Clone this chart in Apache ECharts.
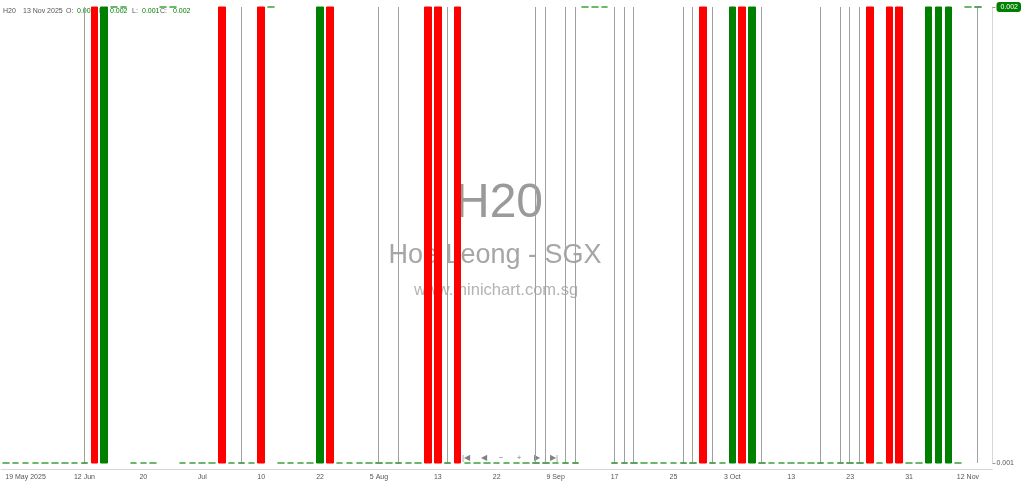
<!DOCTYPE html>
<html>
<head>
<meta charset="utf-8">
<title>H20 - Hoe Leong - SGX</title>
<script src="https://cdn.jsdelivr.net/npm/echarts@6.0.0/dist/echarts.min.js"></script>
<style>
html,body{margin:0;padding:0;background:#fff;}
#chart{width:1024px;height:484px;}
</style>
</head>
<body>
<div id="chart"></div>
<script>
// 交易日（只含有成交的日子）
var dates = [
    '2025-05-14','2025-05-16','2025-05-19','2025-05-22','2025-05-27','2025-05-30','2025-06-04','2025-06-09','2025-06-12','2025-06-13',
    '2025-06-16','2025-06-17','2025-06-18','2025-06-19','2025-06-20','2025-06-23','2025-06-24','2025-06-25','2025-06-26','2025-06-30',
    '2025-07-01','2025-07-02','2025-07-03','2025-07-04','2025-07-07','2025-07-09','2025-07-10','2025-07-11','2025-07-14','2025-07-16',
    '2025-07-17','2025-07-21','2025-07-22','2025-07-23','2025-07-25','2025-07-28','2025-07-30','2025-08-01','2025-08-05','2025-08-06',
    '2025-08-07','2025-08-08','2025-08-11','2025-08-12','2025-08-13','2025-08-14','2025-08-15','2025-08-18','2025-08-20','2025-08-21',
    '2025-08-22','2025-08-26','2025-08-28','2025-09-01','2025-09-03','2025-09-05','2025-09-09','2025-09-10','2025-09-11','2025-09-12',
    '2025-09-15','2025-09-16','2025-09-17','2025-09-18','2025-09-19','2025-09-22','2025-09-23','2025-09-24','2025-09-25','2025-09-26',
    '2025-09-29','2025-09-30','2025-10-01','2025-10-02','2025-10-03','2025-10-06','2025-10-07','2025-10-08','2025-10-09','2025-10-10',
    '2025-10-13','2025-10-14','2025-10-15','2025-10-16','2025-10-17','2025-10-22','2025-10-23','2025-10-24','2025-10-27','2025-10-28',
    '2025-10-29','2025-10-30','2025-10-31','2025-11-04','2025-11-05','2025-11-06','2025-11-07','2025-11-11','2025-11-12','2025-11-13'
];
var opens = [
    0.001,0.001,0.001,0.001,0.001,0.001,0.001,0.001,0.001,0.002,
    0.001,0.002,0.002,0.001,0.001,0.001,0.002,0.002,0.001,0.001,
    0.001,0.001,0.002,0.001,0.001,0.001,0.002,0.002,0.001,0.001,
    0.001,0.001,0.001,0.002,0.001,0.001,0.001,0.001,0.001,0.001,
    0.001,0.001,0.001,0.002,0.002,0.001,0.002,0.001,0.001,0.001,
    0.001,0.001,0.001,0.001,0.001,0.001,0.001,0.001,0.001,0.002,
    0.002,0.002,0.001,0.001,0.001,0.001,0.001,0.001,0.001,0.001,
    0.001,0.002,0.001,0.001,0.001,0.002,0.001,0.001,0.001,0.001,
    0.001,0.001,0.001,0.001,0.001,0.001,0.001,0.001,0.002,0.001,
    0.002,0.002,0.001,0.001,0.001,0.001,0.001,0.001,0.002,0.002
];
var highs = [
    0.001,0.001,0.001,0.001,0.001,0.001,0.001,0.001,0.002,0.002,
    0.002,0.002,0.002,0.001,0.001,0.001,0.002,0.002,0.001,0.001,
    0.001,0.001,0.002,0.001,0.002,0.001,0.002,0.002,0.001,0.001,
    0.001,0.001,0.002,0.002,0.001,0.001,0.001,0.001,0.002,0.001,
    0.002,0.001,0.001,0.002,0.002,0.002,0.002,0.001,0.001,0.001,
    0.001,0.001,0.001,0.001,0.002,0.002,0.001,0.002,0.002,0.002,
    0.002,0.002,0.002,0.002,0.002,0.001,0.001,0.001,0.001,0.002,
    0.002,0.002,0.002,0.001,0.002,0.002,0.002,0.002,0.001,0.001,
    0.001,0.001,0.001,0.002,0.001,0.002,0.002,0.002,0.002,0.001,
    0.002,0.002,0.001,0.001,0.002,0.002,0.002,0.001,0.002,0.002
];
var lows = [
    0.001,0.001,0.001,0.001,0.001,0.001,0.001,0.001,0.001,0.001,
    0.001,0.002,0.002,0.001,0.001,0.001,0.002,0.002,0.001,0.001,
    0.001,0.001,0.001,0.001,0.001,0.001,0.001,0.002,0.001,0.001,
    0.001,0.001,0.001,0.001,0.001,0.001,0.001,0.001,0.001,0.001,
    0.001,0.001,0.001,0.001,0.001,0.001,0.001,0.001,0.001,0.001,
    0.001,0.001,0.001,0.001,0.001,0.001,0.001,0.001,0.001,0.002,
    0.002,0.002,0.001,0.001,0.001,0.001,0.001,0.001,0.001,0.001,
    0.001,0.001,0.001,0.001,0.001,0.001,0.001,0.001,0.001,0.001,
    0.001,0.001,0.001,0.001,0.001,0.001,0.001,0.001,0.001,0.001,
    0.001,0.001,0.001,0.001,0.001,0.001,0.001,0.001,0.002,0.001
];
var closes = [
    0.001,0.001,0.001,0.001,0.001,0.001,0.001,0.001,0.001,0.001,
    0.002,0.002,0.002,0.001,0.001,0.001,0.002,0.002,0.001,0.001,
    0.001,0.001,0.001,0.001,0.001,0.001,0.001,0.002,0.001,0.001,
    0.001,0.001,0.002,0.001,0.001,0.001,0.001,0.001,0.001,0.001,
    0.001,0.001,0.001,0.001,0.001,0.001,0.001,0.001,0.001,0.001,
    0.001,0.001,0.001,0.001,0.001,0.001,0.001,0.001,0.001,0.002,
    0.002,0.002,0.001,0.001,0.001,0.001,0.001,0.001,0.001,0.001,
    0.001,0.001,0.001,0.001,0.002,0.001,0.002,0.001,0.001,0.001,
    0.001,0.001,0.001,0.001,0.001,0.001,0.001,0.001,0.001,0.001,
    0.001,0.001,0.001,0.001,0.002,0.002,0.002,0.001,0.002,0.002
];
var yTicks = [0.001, 0.002];
var firstLabel = 2;     // 第一个日期标签的位置
var labelStep = 6;      // 每6根K线一个标签

var MONTHS = ['Jan','Feb','Mar','Apr','May','Jun','Jul','Aug','Sep','Oct','Nov','Dec'];
var UP = '#008000', DOWN = '#ff0000', FLAT = '#3c9f3c', WICK = '#a0a0a0';
var FONT = '"Liberation Sans", Arial, sans-serif';

function splitDate(s){
    var p = s.split('-');
    return {y: +p[0], m: +p[1], d: +p[2]};
}
function tickText(value, index){
    var d = splitDate(value);
    if (index === firstLabel) return d.d + ' ' + MONTHS[d.m - 1] + ' ' + d.y;
    var prev = splitDate(dates[index - labelStep]);
    if (prev.m !== d.m) return d.d === 1 ? MONTHS[d.m - 1] : d.d + ' ' + MONTHS[d.m - 1];
    return '' + d.d;
}
function oneColor(c){
    return {color: c, color0: c, borderColor: c, borderColor0: c, borderColorDoji: c};
}

// K线数据
let candle_data = [];
let dash_data = [];
for (let i = 0; i < dates.length; i++) {
    let item = {value: [opens[i], closes[i], lows[i], highs[i]]};
    if (opens[i] === closes[i]) {
        item.itemStyle = oneColor(highs[i] > lows[i] ? WICK : FLAT);
    }
    candle_data.push(item);
    // 十字星的实体横线用绿色另画一层
    if (opens[i] === closes[i] && highs[i] > lows[i]) {
        dash_data.push([opens[i], closes[i], opens[i], closes[i]]);
    } else {
        dash_data.push('-');
    }
}

let last = dates.length - 1;
let lastDay = splitDate(dates[last]);
let header = [
    {x: 3,   text: 'H20', fill: '#555'},
    {x: 23,  text: lastDay.d + ' ' + MONTHS[lastDay.m - 1] + ' ' + lastDay.y, fill: '#555'},
    {x: 66,  text: 'O:', fill: '#555'},
    {x: 77,  text: opens[last].toFixed(3), fill: UP},
    {x: 99,  text: 'H:', fill: '#555'},
    {x: 110, text: highs[last].toFixed(3), fill: UP},
    {x: 132, text: 'L:', fill: '#555'},
    {x: 142, text: lows[last].toFixed(3), fill: UP},
    {x: 160, text: 'C:', fill: '#555'},
    {x: 173, text: closes[last].toFixed(3), fill: UP}
];
let navIcons = [['|\u25C0', 466], ['\u25C0', 484], ['\u2212', 501], ['+', 519], ['\u25B6', 537], ['\u25B6|', 554]];

let graphics = [
    {type: 'text', x: 499, y: 204, z: 0, style: {text: 'H20', textAlign: 'center', textVerticalAlign: 'middle', fill: '#9a9a9a', font: '48px ' + FONT}},
    {type: 'text', x: 495, y: 256, z: 0, style: {text: 'Hoe Leong - SGX', textAlign: 'center', textVerticalAlign: 'middle', fill: '#a6a6a6', font: '27px ' + FONT}},
    {type: 'text', x: 496, y: 290, z: 0, style: {text: 'www.minichart.com.sg', textAlign: 'center', textVerticalAlign: 'middle', fill: '#b3b3b3', font: '16.5px ' + FONT}}
];
header.forEach(function(h){
    graphics.push({type: 'text', x: h.x, y: 11, z: 0, style: {text: h.text, textVerticalAlign: 'middle', fill: h.fill, font: '7px ' + FONT}});
});
navIcons.forEach(function(n){
    graphics.push({type: 'text', x: n[1], y: 458, z: 0, style: {text: n[0], textAlign: 'center', textVerticalAlign: 'middle', fill: '#808080', font: '8px ' + FONT}});
});

let myChart = echarts.init(document.getElementById('chart'));
myChart.setOption({
    animation: false,
    backgroundColor: '#fff',
    graphic: graphics,
    grid: {left: 1, right: 28, top: 7, bottom: 21},
    xAxis: {
        type: 'category',
        data: dates,
        max: dates.length,
        boundaryGap: true,
        offset: 6,
        axisLine: {lineStyle: {color: '#d8d8d8'}},
        axisTick: {show: false},
        splitLine: {show: false},
        axisLabel: {
            interval: function(index){ return index >= firstLabel && (index - firstLabel) % labelStep === 0; },
            formatter: tickText,
            fontSize: 7,
            fontFamily: FONT,
            color: '#555',
            margin: 5
        }
    },
    yAxis: {
        type: 'value',
        position: 'right',
        min: yTicks[0],
        max: yTicks[1],
        interval: 0.001,
        splitLine: {show: false},
        axisLine: {show: true, lineStyle: {color: '#d8d8d8'}},
        axisTick: {show: true, length: 3, lineStyle: {color: '#999'}},
        axisLabel: {
            margin: 4,
            fontSize: 7,
            fontFamily: FONT,
            color: '#555',
            formatter: function(v){ return v > 0.0015 ? '{tag|' + v.toFixed(3) + '}' : v.toFixed(3); },
            rich: {
                tag: {backgroundColor: UP, color: '#fff', padding: [2, 3, 1, 4], borderRadius: 3, fontSize: 7, fontFamily: FONT}
            }
        }
    },
    series: [
        {
            type: 'candlestick',
            data: candle_data,
            barWidth: 7,
            clip: false,
            itemStyle: {color: UP, color0: DOWN, borderColor: UP, borderColor0: DOWN, borderWidth: 1}
        },
        {
            type: 'candlestick',
            data: dash_data,
            barWidth: 7,
            clip: false,
            itemStyle: oneColor(FLAT)
        }
    ]
});
</script>
</body>
</html>
